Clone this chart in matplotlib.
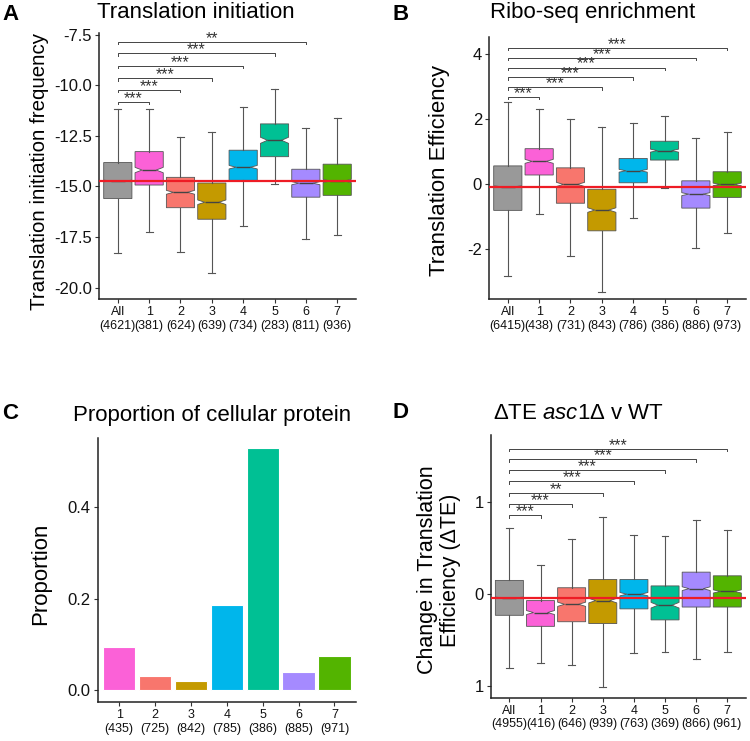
import matplotlib
matplotlib.use("Agg")
import matplotlib.pyplot as plt
import numpy as np

plt.rcParams['font.family'] = ['Liberation Sans', 'DejaVu Sans']
plt.rcParams['mathtext.fontset'] = 'custom'
plt.rcParams['mathtext.rm'] = 'Liberation Sans'
plt.rcParams['mathtext.it'] = 'Liberation Sans:italic'

# ---------------- data ----------------
box_groups = ["All", "1", "2", "3", "4", "5", "6", "7"]
box_colors = ["#999999", "#FB61D7", "#F8766D", "#C49A00", "#00B6EB", "#00C094", "#A58AFF", "#53B400"]

# Panel A: Translation initiation frequency
a_n = [4621, 381, 624, 639, 734, 283, 811, 936]
a_whislo = [-18.27, -17.26, -18.24, -19.29, -16.94, -14.89, -17.59, -17.38]
a_q1 = [-15.60, -14.93, -16.05, -16.62, -14.70, -13.53, -15.53, -15.44]
a_med = [-14.73, -14.19, -15.29, -15.78, -14.05, -12.72, -14.84, -14.73]
a_q3 = [-13.82, -13.28, -14.55, -14.83, -13.21, -11.91, -14.15, -13.90]
a_whishi = [-11.19, -11.19, -12.54, -12.32, -11.09, -10.18, -12.10, -11.60]
a_sig_groups = [1, 2, 3, 4, 5, 6]
a_sig_y = [-10.83, -10.23, -9.65, -9.05, -8.42, -7.85]
a_sig_labels = ["***", "***", "***", "***", "***", "**"]
a_yticks = [-20.0, -17.5, -15.0, -12.5, -10.0, -7.5]
a_yticklabels = ["-20.0", "-17.5", "-15.0", "-12.5", "-10.0", "-7.5"]

# Panel B: Ribo-seq enrichment (Translation Efficiency)
b_n = [6415, 438, 731, 843, 786, 386, 886, 973]
b_whislo = [-2.82, -0.93, -2.22, -3.32, -1.05, -0.11, -1.96, -1.52]
b_q1 = [-0.81, 0.28, -0.59, -1.44, 0.04, 0.74, -0.74, -0.41]
b_med = [-0.08, 0.70, -0.01, -0.80, 0.41, 1.03, -0.31, -0.01]
b_q3 = [0.56, 1.09, 0.50, -0.16, 0.79, 1.32, 0.10, 0.38]
b_whishi = [2.53, 2.31, 2.00, 1.75, 1.89, 2.11, 1.41, 1.61]
b_sig_groups = [1, 3, 4, 5, 6, 7]
b_sig_y = [2.69, 2.98, 3.29, 3.59, 3.89, 4.19]
b_sig_labels = ["***", "***", "***", "***", "***", "***"]
b_yticks = [-2, 0, 2, 4]
b_yticklabels = ["-2", "0", "2", "4"]

# Panel C: Proportion of cellular protein
c_groups = ["1", "2", "3", "4", "5", "6", "7"]
c_n = [435, 725, 842, 785, 386, 885, 971]
c_prop = [0.094, 0.031, 0.020, 0.187, 0.529, 0.041, 0.075]
c_colors = ["#FB61D7", "#F8766D", "#C49A00", "#00B6EB", "#00C094", "#A58AFF", "#53B400"]
c_yticks = [0.0, 0.2, 0.4]
c_yticklabels = ["0.0", "0.2", "0.4"]

# Panel D: delta TE asc1 v WT
d_n = [4955, 416, 646, 939, 763, 369, 866, 961]
d_whislo = [-0.80, -0.75, -0.77, -1.01, -0.64, -0.63, -0.71, -0.63]
d_q1 = [-0.23, -0.35, -0.30, -0.32, -0.16, -0.28, -0.14, -0.14]
d_med = [-0.04, -0.20, -0.11, -0.07, 0.00, -0.12, 0.06, 0.03]
d_q3 = [0.15, -0.07, 0.07, 0.16, 0.16, 0.09, 0.24, 0.20]
d_whishi = [0.72, 0.32, 0.60, 0.84, 0.64, 0.63, 0.81, 0.70]
d_sig_groups = [1, 2, 3, 4, 5, 6, 7]
d_sig_y = [0.86, 0.98, 1.10, 1.23, 1.35, 1.47, 1.58]
d_sig_labels = ["***", "***", "**", "***", "***", "***", "***"]
d_yticks = [-1, 0, 1]
d_yticklabels = ["1", "0", "1"]

# ---------------- figure ----------------
W, H = 750, 741
fig = plt.figure(figsize=(W / 100, H / 100), dpi=100)


def px_axes(left, top, right, bottom):
    return fig.add_axes([left / W, 1 - bottom / H, (right - left) / W, (bottom - top) / H])


def style_axes(ax):
    for s in ["top", "right"]:
        ax.spines[s].set_visible(False)
    for s in ["left", "bottom"]:
        ax.spines[s].set_linewidth(1.1)
        ax.spines[s].set_color("#222222")
    ax.tick_params(axis="both", length=3, width=0.8, color="#333333", pad=2)
    ax.tick_params(axis="y", labelsize=12, labelcolor="#111111")
    ax.tick_params(axis="x", labelsize=9, labelcolor="#111111")
    ax.set_facecolor("white")


def box_panel(ax, n, lo, q1, med, q3, hi, ylim, yticks, yticklabels,
              sig_groups, sig_y, sig_labels):
    stats = []
    for i in range(len(n)):
        iqr = q3[i] - q1[i]
        nw = 1.58 * iqr / np.sqrt(n[i])
        stats.append(dict(med=med[i], q1=q1[i], q3=q3[i], whislo=lo[i], whishi=hi[i],
                          cilo=med[i] - nw, cihi=med[i] + nw, fliers=[]))
    bp = ax.bxp(stats, positions=list(range(len(n))), widths=0.9, capwidths=0.22,
                shownotches=True, patch_artist=True, showfliers=False,
                boxprops=dict(edgecolor="#555555", linewidth=0.6),
                medianprops=dict(color="#444444", linewidth=1.0),
                whiskerprops=dict(color="#555555", linewidth=0.8),
                capprops=dict(color="#555555", linewidth=0.8))
    for patch, c in zip(bp["boxes"], box_colors):
        patch.set_facecolor(c)
    ax.axhline(med[0], color="#EE1C25", lw=1.6, zorder=6)
    ax.set_xlim(-0.6, len(n) - 0.4)
    ax.set_ylim(*ylim)
    ax.set_yticks(yticks)
    ax.set_yticklabels(yticklabels)
    ax.set_xticks(list(range(len(n))))
    ax.set_xticklabels([f"{g}\n({k})" for g, k in zip(box_groups, n)])
    rng = ylim[1] - ylim[0]
    tick = 0.009 * rng
    for g, y, lab in zip(sig_groups, sig_y, sig_labels):
        ax.plot([0, 0, g, g], [y - tick, y, y, y - tick], color="#444444", lw=0.7, zorder=7,
                clip_on=False)
        ax.text(g / 2, y - 0.004 * rng, lab, ha="center", va="baseline", fontsize=11.5,
                color="#333333", zorder=7)
    style_axes(ax)


# Panel A
axA = px_axes(99, 33, 356, 299)
box_panel(axA, a_n, a_whislo, a_q1, a_med, a_q3, a_whishi, (-20.56, -7.42),
          a_yticks, a_yticklabels, a_sig_groups, a_sig_y, a_sig_labels)

# Panel B
axB = px_axes(489, 36.7, 746, 299)
box_panel(axB, b_n, b_whislo, b_q1, b_med, b_q3, b_whishi, (-3.54, 4.54),
          b_yticks, b_yticklabels, b_sig_groups, b_sig_y, b_sig_labels)

# Panel C
axC = px_axes(97.7, 438.3, 356, 702.3)
axC.bar(range(len(c_groups)), c_prop, width=0.9, color=c_colors, edgecolor="white", linewidth=0.8)
axC.set_xlim(-0.6, len(c_groups) - 0.4)
axC.set_ylim(-0.026, 0.55)
axC.set_yticks(c_yticks)
axC.set_yticklabels(c_yticklabels)
axC.set_xticks(list(range(len(c_groups))))
axC.set_xticklabels([f"{g}\n({k})" for g, k in zip(c_groups, c_n)])
style_axes(axC)

# Panel D
axD = px_axes(490.7, 435, 746, 697.7)
box_panel(axD, d_n, d_whislo, d_q1, d_med, d_q3, d_whishi, (-1.127, 1.733),
          d_yticks, d_yticklabels, d_sig_groups, d_sig_y, d_sig_labels)


def ftext(x, y, s, **kw):
    return fig.text(x / W, 1 - y / H, s, **kw)


# panel letters
for lx, ly, L in [(2, 14, "A"), (393, 14, "B"), (2, 413, "C"), (393, 412, "D")]:
    ftext(lx, ly, L, fontsize=16, fontweight="bold", ha="left", va="center")

# titles (baseline positions)
ftext(97, 18, "Translation initiation", fontsize=16, ha="left", va="baseline")
ftext(490, 18, "Ribo-seq enrichment", fontsize=16, ha="left", va="baseline")
ftext(73, 420.7, "Proportion of cellular protein", fontsize=16, ha="left", va="baseline")
ftext(493, 419, r"ΔTE $\mathit{asc1Δ}$ v WT", fontsize=16, ha="left", va="baseline")

# y labels
ftext(40, 171, "Translation initiation frequency", fontsize=14.8, rotation=90, ha="center", va="center")
ftext(440, 171, "Translation Efficiency", fontsize=16, rotation=90, ha="center", va="center")
ftext(41, 574, "Proportion", fontsize=16, rotation=90, ha="center", va="center")
ftext(439, 570, "Change in Translation\nEfficiency (ΔTE)", fontsize=15.5, rotation=90,
      ha="center", va="center", multialignment="center", linespacing=1.12)

fig.savefig("out.png", dpi=100, facecolor="white")
